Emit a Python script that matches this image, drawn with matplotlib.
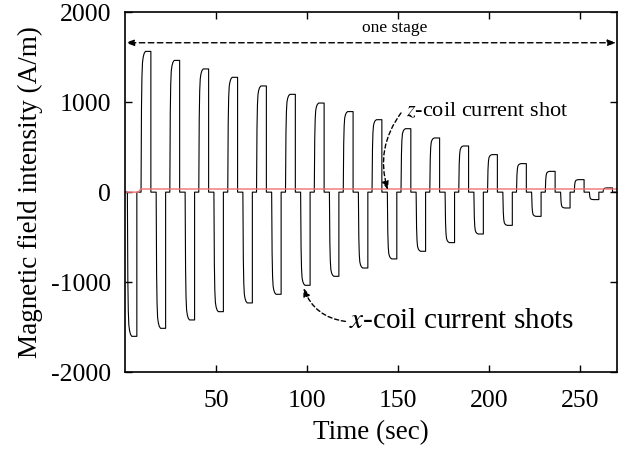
import matplotlib
matplotlib.use("Agg")
import matplotlib.pyplot as plt
import numpy as np

# ---- data ----
neg_start = [1.3, 17.1, 33.0, 48.8, 64.7, 80.5, 96.4, 112.2, 128.1, 144.0,
             159.8, 175.7, 191.5, 207.4, 223.2, 239.1, 254.9]
neg_end = [6.5, 22.3, 38.2, 54.0, 69.9, 85.7, 101.6, 117.4, 133.3, 149.2,
           165.0, 180.9, 196.7, 212.6, 228.4, 244.3, 260.1]
neg_amp = [-1602, -1513, -1420, -1328, -1231, -1135, -1035, -935, -843, -742,
           -657, -561, -465, -369, -269, -176, -83]

pos_start = [8.8, 24.6, 40.5, 56.4, 72.2, 88.1, 103.9, 119.8, 135.6, 151.5,
             167.3, 183.2, 199.0, 214.9, 230.7, 246.6, 262.4]
pos_end = [14.2, 30.0, 45.9, 61.8, 77.6, 93.5, 109.3, 125.2, 141.0, 156.9,
           172.7, 188.6, 204.4, 220.3, 236.1, 252.0, 267.6]
pos_amp = [1564, 1464, 1369, 1276, 1180, 1087, 990, 895, 805, 705,
           602, 513, 417, 317, 231, 139, 47]

# z-component trace (red)
z_t = [0, 7.4, 8.6, 270]
z_v = [0, 0, 35, 35]

xticks = [50, 100, 150, 200, 250]
yticks = [-2000, -1000, 0, 1000, 2000]

# ---- build the x-coil trace from pulse table ----
# normalized first-order rise shape (style of the edge)
rise_dt = [0.0, 0.25, 0.5, 0.8, 1.2, 1.7, 2.4]
rise_f = [0.0, 0.6, 0.82, 0.92, 0.96, 0.985, 1.0]

pulses = sorted(
    [(s, e, a) for s, e, a in zip(neg_start, neg_end, neg_amp)] +
    [(s, e, a) for s, e, a in zip(pos_start, pos_end, pos_amp)]
)
tt = [0.0]
vv = [0.0]
for s, e, a in pulses:
    for dt, f in zip(rise_dt, rise_f):
        tt.append(s + dt)
        vv.append(a * f)
    tt.append(e)
    vv.append(a * 1.0)
    tt.append(e)
    vv.append(0.0)
tt.append(270)
vv.append(0.0)

plt.rcParams['font.family'] = ['Liberation Serif', 'DejaVu Serif']
plt.rcParams['mathtext.fontset'] = 'stix'

fig = plt.figure(figsize=(6.25, 4.5), dpi=100)
ax = fig.add_axes([0.2, 0.173, 0.787, 0.8])

ax.plot(tt, vv, color='black', lw=0.8)
ax.plot(z_t, z_v, color='#f07070', lw=1.0)

ax.set_xlim(0, 270)
ax.set_ylim(-2000, 2000)
ax.set_xticks(xticks)
ax.set_yticks(yticks)
ax.set_yticklabels([str(v) for v in yticks])
ax.tick_params(direction='in', length=5, width=1, labelsize=18.5,
               top=True, right=True)
ax.tick_params(axis='x', pad=13)
ax.tick_params(axis='y', pad=10)
for sp in ax.spines.values():
    sp.set_linewidth(1.2)

ax.set_xlabel('Time (sec)', fontsize=19.5, labelpad=6)
ax.set_ylabel('Magnetic field intensity (A/m)', fontsize=19.5, labelpad=6)

# one stage arrow
ax.annotate('', xy=(0.3, 1660), xytext=(269.7, 1660),
            arrowprops=dict(arrowstyle='<|-|>,head_length=0.5,head_width=0.18',
                            ls=(0, (4, 2.5)), lw=1.0, color='black',
                            shrinkA=0, shrinkB=0))
ax.text(148, 1820, 'one stage', fontsize=12.5, ha='center', va='center')

# z-coil annotation
ax.annotate('', xy=(144.3, 25), xytext=(151.5, 880),
            arrowprops=dict(arrowstyle='-|>,head_length=0.5,head_width=0.2',
                            ls=(0, (3, 2)), lw=1.0, color='black',
                            connectionstyle='arc3,rad=0.25',
                            shrinkA=0, shrinkB=0))
ax.text(154, 897, r'$z$-coil current shot', fontsize=16, ha='left', va='center')

# x-coil annotation
ax.annotate('', xy=(98, -1065), xytext=(121, -1436),
            arrowprops=dict(arrowstyle='-|>,head_length=0.5,head_width=0.2',
                            ls=(0, (3, 2)), lw=1.0, color='black',
                            connectionstyle='arc3,rad=-0.3',
                            shrinkA=0, shrinkB=0))
ax.text(123, -1436, r'$x$-coil current shots', fontsize=21, ha='left', va='center')

fig.savefig('out.png', dpi=100)
